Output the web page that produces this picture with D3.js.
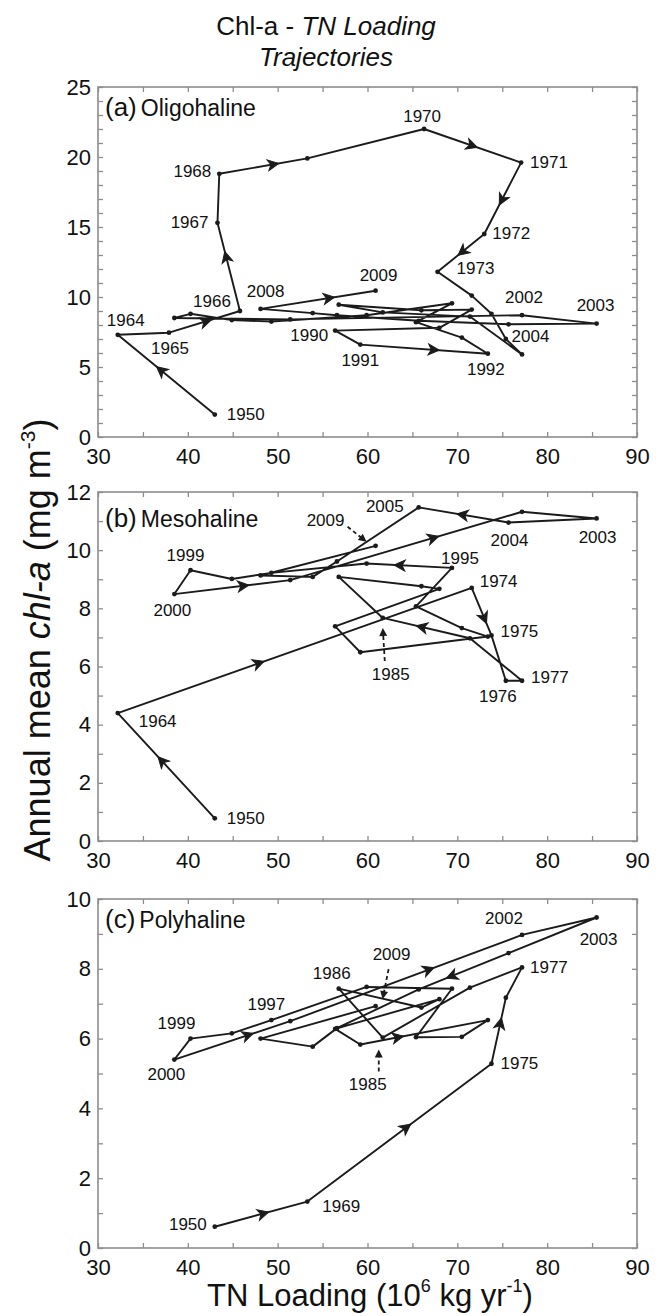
<!DOCTYPE html>
<html>
<head>
<meta charset="utf-8">
<script src="https://cdn.jsdelivr.net/npm/d3@7"></script>
<style>
  body { margin: 0; background: #fff; }
  svg { font-family: "Liberation Sans", Arial, sans-serif; }
</style>
</head>
<body>
<svg id="chart" width="660" height="1316"></svg>
<script>
// years with data (gap 1951-63 and 1978-83)
var years = [1950,
  1964, 1965, 1966, 1967, 1968, 1969, 1970, 1971, 1972, 1973, 1974, 1975, 1976, 1977,
  1984, 1985, 1986, 1987, 1988, 1989, 1990, 1991, 1992, 1993, 1994, 1995, 1996,
  1997, 1998, 1999, 2000, 2001, 2002, 2003, 2004, 2005, 2006, 2007, 2008, 2009];

// TN loading, 10^6 kg/yr
var tnLoad = [43.0,
  32.2, 37.9, 45.8, 43.3, 43.5, 53.3, 66.3, 77.1, 73.0, 67.8, 71.6, 73.8, 75.4, 77.2,
  71.4, 61.7, 56.8, 66.0, 71.6, 68.0, 56.4, 59.2, 73.4, 70.5, 65.4, 69.4, 59.9,
  49.3, 44.9, 40.3, 38.5, 51.4, 77.2, 85.5, 75.7, 65.7, 56.6, 53.9, 48.1, 60.9];

// annual mean chl-a, mg m-3 (null = no value)
var chlOligo = [1.6,
  7.3, 7.45, 9.0, 15.3, 18.8, 19.9, 22.0, 19.6, 14.5, 11.8, 10.1, 8.8, 7.0, 5.9,
  8.6, 8.9, 9.45, 9.05, 9.1, 7.8, 7.6, 6.6, 5.95, 7.1, 8.2, 9.55, 8.7,
  8.25, 8.35, 8.8, 8.5, 8.4, 8.7, 8.1, 8.05, 8.3, 8.7, 8.85, 9.15, 10.45];

var chlMeso = [0.78,
  4.4, null, null, null, null, null, null, null, null, null, 8.7, 7.07, 5.51, 5.51,
  6.97, 7.67, 9.08, 8.76, null, 8.67, 7.38, 6.49, 7.03, 7.32, 8.07, 9.39, 9.54,
  9.22, 9.01, 9.31, 8.49, 8.97, 11.32, 11.09, 10.95, 11.47, 9.61, 9.08, 9.13, 10.15];

var chlPoly = [0.61,
  null, null, null, null, null, 1.33, null, null, null, null, null, 5.28, 7.17, 8.04,
  7.46, 6.03, 7.43, 6.89, null, 7.13, 6.28, 5.83, 6.53, 6.05, 6.04, 7.43, 7.48,
  6.53, 6.15, 6.0, 5.4, 6.5, 8.97, 9.47, 8.45, 7.41, 6.3, 5.77, 6.0, 6.93];

var xTickLabels = [30, 40, 50, 60, 70, 80, 90];

// year labels: [year, anchor, dx, dy] relative to the point
var labelsA = [[1950,'start',12,0],[1964,'middle',8,-14],[1965,'middle',1,16],[1966,'middle',-28,-10],
  [1967,'end',-9,0],[1968,'end',-8,-2],[1970,'middle',-2,-13],[1971,'start',9,0],[1972,'start',8,-1],
  [1973,'start',19,-3],[1990,'end',-7,5],[1991,'middle',0,16],[1992,'middle',-2,16],
  [2002,'middle',2,-18],[2003,'middle',-1,-18],[2004,'start',3,12],[2008,'middle',5,-17],[2009,'middle',3,-15]];
var labelsB = [[1950,'start',12,0],[1964,'start',21,8],[1974,'start',8,-6],[1975,'start',9,-4],
  [1976,'middle',-8,16],[1977,'start',9,-3],[1995,'middle',8,-9],[1999,'middle',-5,-15],
  [2000,'middle',-2,16],[2003,'middle',1,19],[2004,'middle',1,18],[2005,'end',-15,-1]];
var labelsC = [[1950,'end',-8,-2],[1969,'start',15,5],[1975,'start',9,0],[1977,'start',8,0],
  [1986,'middle',-7,-15],[1997,'middle',-5,-16],[1999,'middle',-14,-15],[2000,'middle',-8,15],
  [2002,'middle',-18,-16],[2003,'middle',2,22]];

// dashed call-outs: [year, labelDx, labelDy, fromDx, fromDy, toDx, toDy]
var calloutsB = [[1985, 8, 57, 2, 43, 0, 10], [2009, -50, -25, -28, -19, -9, -4]];
var calloutsC = [[1985, -15, 47, -4, 34, -4, 12], [2009, 16, -52, 13, -37, 7, -7]];

// direction arrows: [segment start year, fraction along segment]
var arrowsA = [[1950,0.56],[1965,0.53],[1966,0.62],[1968,0.62],[1970,0.5],[1971,0.53],[1972,0.48],[1991,0.58],[2008,0.6]];
var arrowsB = [[1950,0.55],[1964,0.4],[1974,0.65],[1984,0.56],[1995,0.62],[2000,0.6],[2001,0.62],[2004,0.52]];
var arrowsC = [[1950,0.53],[1969,0.54],[1975,0.62],[1991,0.3],[2000,0.64],[2001,0.6],[2004,0.64]];

var panels = [
  {tag:'(a)', name:'Oligohaline', chl:chlOligo, top:87, bottom:437, yMax:25, yStep:5, labels:labelsA, callouts:[], arrows:arrowsA, nameY:116},
  {tag:'(b)', name:'Mesohaline', chl:chlMeso, top:492, bottom:841, yMax:12, yStep:2, labels:labelsB, callouts:calloutsB, arrows:arrowsB, nameY:527},
  {tag:'(c)', name:'Polyhaline', chl:chlPoly, top:899, bottom:1248, yMax:10, yStep:2, labels:labelsC, callouts:calloutsC, arrows:arrowsC, nameY:928}
];

var frameColor = '#8d8d8d';
var ink = '#1b1b1b';
var svg = d3.select('#chart');
var x = d3.scaleLinear().domain([30, 90]).range([98, 637]);

function styleAxis(sel) {
  sel.select('.domain').remove();
  sel.selectAll('.tick line').attr('stroke', frameColor).attr('stroke-width', 1.3);
  sel.selectAll('.tick text').attr('font-size', 22).attr('fill', '#111')
    .attr('font-family', '"Liberation Sans", Arial, sans-serif');
  sel.attr('font-size', null).attr('font-family', null);
}

panels.forEach(function(p) {
  var y = d3.scaleLinear().domain([0, p.yMax]).range([p.bottom, p.top]);
  var g = svg.append('g');
  var xMinor = d3.range(30, 90.1, 5);
  var yMinor = d3.range(0, p.yMax + 0.1, 1);

  g.append('g').attr('transform', 'translate(0,' + p.bottom + ')')
    .call(d3.axisBottom(x).tickValues(xMinor).tickSizeInner(-5).tickSizeOuter(0).tickPadding(11)
      .tickFormat(function(d) { return xTickLabels.indexOf(d) >= 0 ? d : ''; }))
    .call(styleAxis);
  g.append('g').attr('transform', 'translate(0,' + p.top + ')')
    .call(d3.axisTop(x).tickValues(xMinor).tickSizeInner(-5).tickSizeOuter(0).tickFormat(''))
    .call(styleAxis);
  g.append('g').attr('transform', 'translate(98,0)')
    .call(d3.axisLeft(y).tickValues(yMinor).tickSizeInner(-5).tickSizeOuter(0).tickPadding(7)
      .tickFormat(function(d) { return d % p.yStep === 0 ? d : ''; }))
    .call(styleAxis);
  g.append('g').attr('transform', 'translate(637,0)')
    .call(d3.axisRight(y).tickValues(yMinor).tickSizeInner(-5).tickSizeOuter(0).tickFormat(''))
    .call(styleAxis);

  g.append('rect')
    .attr('x', 98).attr('y', p.top).attr('width', 637 - 98).attr('height', p.bottom - p.top)
    .attr('fill', 'none').attr('stroke', frameColor).attr('stroke-width', 1.6);

  var name = g.append('text').attr('x', 105).attr('y', p.nameY).attr('fill', '#111');
  name.append('tspan').attr('font-size', 26).text(p.tag);
  name.append('tspan').attr('font-size', 23).attr('dx', 4).text(p.name);

  var pts = years.map(function(yr, i) { return {year: yr, x: tnLoad[i], y: p.chl[i]}; })
    .filter(function(d) { return d.y !== null; });

  var line = d3.line().x(function(d) { return x(d.x); }).y(function(d) { return y(d.y); });
  g.append('path').datum(pts).attr('d', line)
    .attr('fill', 'none').attr('stroke', ink).attr('stroke-width', 1.9).attr('stroke-linejoin', 'round');

  g.selectAll('circle.pt').data(pts).enter().append('circle')
    .attr('cx', function(d) { return x(d.x); })
    .attr('cy', function(d) { return y(d.y); })
    .attr('r', 2.4).attr('fill', ink);

  p.arrows.forEach(function(a) {
    var i = pts.findIndex(function(d) { return d.year === a[0]; });
    var s = pts[i], e = pts[i + 1];
    var x0 = x(s.x), y0 = y(s.y), x1 = x(e.x), y1 = y(e.y);
    var ang = Math.atan2(y1 - y0, x1 - x0) * 180 / Math.PI;
    g.append('path').attr('d', 'M-6,-5.5L5,0L-6,5.5L-3,0Z')
      .attr('transform', 'translate(' + (x0 + (x1 - x0) * a[1]) + ',' + (y0 + (y1 - y0) * a[1]) + ') rotate(' + ang + ')')
      .attr('fill', ink).attr('stroke', ink).attr('stroke-width', 1).attr('stroke-linejoin', 'miter');
  });

  function pos(yr) {
    var d = pts.find(function(q) { return q.year === yr; });
    return [x(d.x), y(d.y)];
  }

  p.labels.forEach(function(l) {
    var c = pos(l[0]);
    g.append('text').attr('x', c[0] + l[2]).attr('y', c[1] + l[3])
      .attr('text-anchor', l[1]).attr('dominant-baseline', 'central')
      .attr('font-size', 17).attr('fill', '#111').text(l[0]);
  });

  p.callouts.forEach(function(l) {
    var c = pos(l[0]);
    g.append('text').attr('x', c[0] + l[1]).attr('y', c[1] + l[2])
      .attr('text-anchor', 'middle').attr('dominant-baseline', 'central')
      .attr('font-size', 17).attr('fill', '#111').text(l[0]);
    var xa = c[0] + l[3], ya = c[1] + l[4], xb = c[0] + l[5], yb = c[1] + l[6];
    var ang = Math.atan2(yb - ya, xb - xa) * 180 / Math.PI;
    var len = Math.hypot(xb - xa, yb - ya);
    g.append('line').attr('x1', xa).attr('y1', ya)
      .attr('x2', xa + (xb - xa) * (len - 6) / len).attr('y2', ya + (yb - ya) * (len - 6) / len)
      .attr('stroke', ink).attr('stroke-width', 1.8).attr('stroke-dasharray', '4,3');
    g.append('path').attr('d', 'M-8,-4L0,0L-8,4Z')
      .attr('transform', 'translate(' + xb + ',' + yb + ') rotate(' + ang + ')')
      .attr('fill', ink);
  });
});

// title
var t1 = svg.append('text').attr('x', 326).attr('y', 35).attr('text-anchor', 'middle')
  .attr('font-size', 26).attr('fill', '#111');
t1.append('tspan').text('Chl-a - ');
t1.append('tspan').attr('font-style', 'italic').text('TN Loading');
svg.append('text').attr('x', 326).attr('y', 66).attr('text-anchor', 'middle')
  .attr('font-size', 26).attr('font-style', 'italic').attr('fill', '#111').text('Trajectories');

// y axis title
var yt = svg.append('text').attr('transform', 'translate(50,640) rotate(-90)')
  .attr('text-anchor', 'middle').attr('font-size', 36).attr('fill', '#111');
yt.append('tspan').text('Annual mean ');
yt.append('tspan').attr('font-style', 'italic').text('chl-a');
yt.append('tspan').text(' (mg m');
yt.append('tspan').attr('font-size', 21).attr('dy', -15).text('-3');
yt.append('tspan').attr('dy', 15).text(')');

// x axis title
var xt = svg.append('text').attr('x', 370).attr('y', 1306).attr('text-anchor', 'middle')
  .attr('font-size', 31).attr('fill', '#111');
xt.append('tspan').text('TN Loading (10');
xt.append('tspan').attr('font-size', 18).attr('dy', -14).text('6');
xt.append('tspan').attr('dy', 14).text(' kg yr');
xt.append('tspan').attr('font-size', 18).attr('dy', -14).text('-1');
xt.append('tspan').attr('dy', 14).text(')');
</script>
</body>
</html>
